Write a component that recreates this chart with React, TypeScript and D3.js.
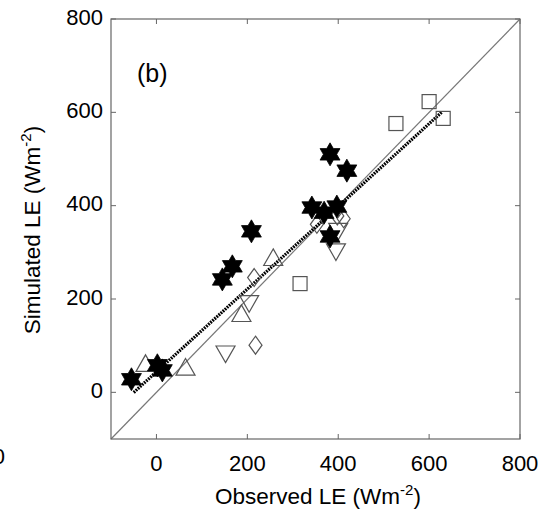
import React from "react";
import * as d3 from "d3";

const xTicks = [0, 200, 400, 600, 800];
const yTicks = [0, 200, 400, 600, 800];

const starX = [-55, 2, 13, 145, 167, 209, 382, 419, 342, 369, 397, 382];
const starY = [28, 58, 47, 242, 270, 345, 510, 475, 396, 385, 398, 334];

const squareX = [600, 631, 527, 316];
const squareY = [623, 587, 576, 233];

const diamondX = [215, 218, 353, 398, 412];
const diamondY = [246, 101, 360, 378, 372];

const upTriX = [-24, 64, 257, 187];
const upTriY = [60, 52, 287, 167];

const downTriX = [152, 204, 395, 400];
const downTriY = [84, 192, 303, 347];

const fitX = [-50, 628];
const fitIntercept = 44;
const fitSlope = 0.886;

const W = 558, H = 518;
const L = 111, R = 520, T = 19, B = 439;

function hexagram(R0: number) {
  const r = R0 / Math.sqrt(3);
  const pts: [number, number][] = [];
  for (let i = 0; i < 12; i++) {
    const a = (i * Math.PI) / 6 - Math.PI / 2;
    const rad = i % 2 === 0 ? R0 : r;
    pts.push([rad * Math.cos(a), rad * Math.sin(a)]);
  }
  return "M" + pts.map((p) => p.join(",")).join("L") + "Z";
}

export default function App() {
  const x = d3.scaleLinear().domain([-100, 800]).range([L, R]);
  const y = d3.scaleLinear().domain([-100, 800]).range([B, T]);
  const line = d3.line<[number, number]>().x((d) => x(d[0])).y((d) => y(d[1]));
  const stroke = "#555";
  const font = "Liberation Sans, Arial, sans-serif";
  const star = hexagram(11.5);
  const tri = 9.5;

  return (
    <svg width={W} height={H} style={{ position: "absolute", left: 0, top: 0, background: "#fff" }} fontFamily={font}>
      <rect x={0} y={0} width={W} height={H} fill="#fff" />
      {/* clipped remnant of neighbouring panel */}
      <text x={5} y={458} fontSize={22} textAnchor="end" dominantBaseline="middle" fill="#000">800</text>
      {/* 1:1 line */}
      <path d={line([[-100, -100], [800, 800]])!} stroke="#777" strokeWidth={1.2} fill="none" />
      {/* fit line */}
      <path
        d={line(fitX.map((v) => [v, fitIntercept + fitSlope * v] as [number, number]))!}
        stroke="#000"
        strokeWidth={3.2}
        strokeDasharray="1.8 1"
        fill="none"
      />
      {squareX.map((v, i) => (
        <rect key={"s" + i} x={x(v) - 7} y={y(squareY[i]) - 7} width={14} height={14} fill="none" stroke={stroke} strokeWidth={1.2} />
      ))}
      {diamondX.map((v, i) => (
        <path key={"d" + i} transform={`translate(${x(v)},${y(diamondY[i])})`} d="M0,-9L6.5,0L0,9L-6.5,0Z" fill="none" stroke={stroke} strokeWidth={1.2} />
      ))}
      {upTriX.map((v, i) => (
        <path key={"u" + i} transform={`translate(${x(v)},${y(upTriY[i])})`} d={`M0,${-tri}L${tri},${tri * 0.75}L${-tri},${tri * 0.75}Z`} fill="none" stroke={stroke} strokeWidth={1.2} />
      ))}
      {downTriX.map((v, i) => (
        <path key={"v" + i} transform={`translate(${x(v)},${y(downTriY[i])})`} d={`M0,${tri}L${tri},${-tri * 0.75}L${-tri},${-tri * 0.75}Z`} fill="none" stroke={stroke} strokeWidth={1.2} />
      ))}
      {starX.map((v, i) => (
        <path key={"h" + i} transform={`translate(${x(v)},${y(starY[i])})`} d={star} fill="#000" stroke="#000" strokeWidth={0.8} />
      ))}
      {/* axes box */}
      <rect x={L} y={T} width={R - L} height={B - T} fill="none" stroke="#666" strokeWidth={1.2} />
      {xTicks.map((t) => (
        <g key={"xt" + t}>
          <line x1={x(t)} x2={x(t)} y1={B} y2={B - 5} stroke="#666" />
          <line x1={x(t)} x2={x(t)} y1={T} y2={T + 5} stroke="#666" />
          <text x={x(t)} y={465} fontSize={22} textAnchor="middle" dominantBaseline="middle" fill="#000">{t}</text>
        </g>
      ))}
      {yTicks.map((t) => (
        <g key={"yt" + t}>
          <line x1={L} x2={L + 5} y1={y(t)} y2={y(t)} stroke="#666" />
          <line x1={R} x2={R - 5} y1={y(t)} y2={y(t)} stroke="#666" />
          <text x={103} y={y(t)} fontSize={22} textAnchor="end" dominantBaseline="middle" fill="#000">{t}</text>
        </g>
      ))}
      <text x={137} y={82} fontSize={25} fill="#000">(b)</text>
      <text x={318} y={504} fontSize={22.5} textAnchor="middle" fill="#000">
        Observed LE (Wm<tspan dy={-9} fontSize={15}>-2</tspan><tspan dy={9}>)</tspan>
      </text>
      <text transform="translate(40,230) rotate(-90)" fontSize={22.5} textAnchor="middle" fill="#000">
        Simulated LE (Wm<tspan dy={-9} fontSize={15}>-2</tspan><tspan dy={9}>)</tspan>
      </text>
    </svg>
  );
}
